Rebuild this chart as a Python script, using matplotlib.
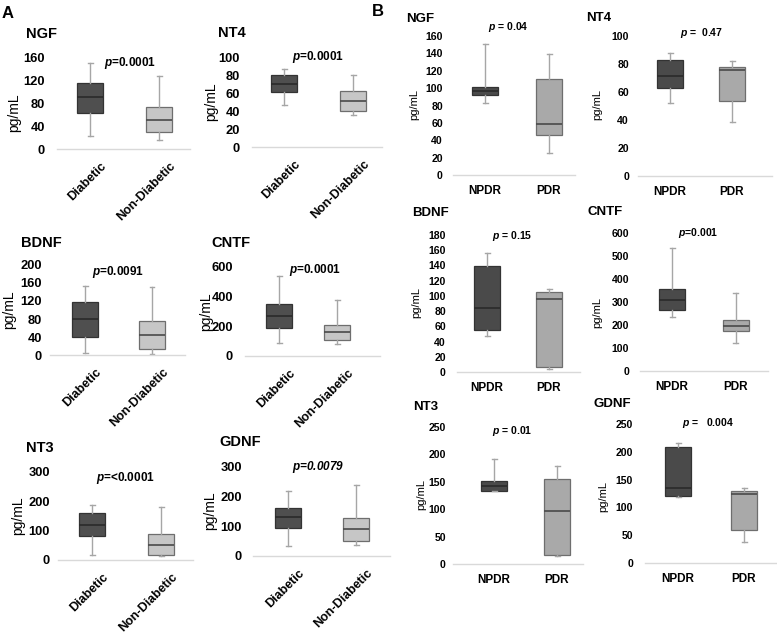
import matplotlib
matplotlib.use("Agg")
import matplotlib.pyplot as plt
from matplotlib.transforms import ScaledTranslation

plt.rcParams['font.family'] = ['Liberation Sans', 'DejaVu Sans']
plt.rcParams['mathtext.fontset'] = 'custom'
plt.rcParams['mathtext.it'] = 'Liberation Sans:italic:bold'
plt.rcParams['mathtext.rm'] = 'Liberation Sans:bold'
plt.rcParams['mathtext.bf'] = 'Liberation Sans:bold'

# ---------------- data ----------------
groups_A = ["Diabetic", "Non-Diabetic"]
groups_B = ["NPDR", "PDR"]
stat_keys = ["whislo", "q1", "med", "q3", "whishi"]

# Panel A: [low whisker, Q1, median, Q3, high whisker]
A_NGF_diab = [22, 64, 91, 116, 152]
A_NGF_non = [15, 30, 51, 73, 129]
A_NT4_diab = [47, 61.5, 71, 81, 87.5]
A_NT4_non = [35.5, 40, 52, 63, 81]
A_BDNF_diab = [5, 40, 81, 118.5, 153]
A_BDNF_non = [3, 14, 45, 75, 150]
A_CNTF_diab = [90, 187, 267, 350, 537]
A_CNTF_non = [81, 110, 164, 211, 375]
A_NT3_diab = [16, 82, 121, 161, 189]
A_NT3_non = [14, 18, 52, 88, 179]
A_GDNF_diab = [34, 95.5, 130, 162, 218]
A_GDNF_non = [36, 50.5, 90, 128, 238]

# Panel B
B_NGF_npdr = [82.5, 92.5, 97, 101, 151]
B_NGF_pdr = [25, 46, 59, 110.5, 139]
B_NT4_npdr = [52, 63, 71.6, 83, 87.6]
B_NT4_pdr = [38.7, 53.5, 76, 78, 82]
B_BDNF_npdr = [46.7, 54.6, 84, 139, 156]
B_BDNF_pdr = [4.4, 6.5, 95.7, 105, 109]
B_CNTF_npdr = [234, 267, 308, 357, 536]
B_CNTF_pdr = [123, 175, 195, 223, 341]
B_NT3_npdr = [134, 134, 143, 151, 192]
B_NT3_pdr = [15, 16, 97, 156, 179]
B_GDNF_npdr = [118, 121, 134, 208, 215]
B_GDNF_pdr = [37, 58.6, 124, 128.6, 134]

titles_A = ["NGF", "NT4", "BDNF", "CNTF", "NT3", "GDNF"]
titles_B = ["NGF", "NT4", "BDNF", "CNTF", "NT3", "GDNF"]
pvals_A = ["=0.0001", "=0.0001", "=0.0091", "=0.0001", "=<0.0001", "=0.0079"]
pvals_B = [" = 0.04", " =  0.47", " = 0.15", "=0.001", " = 0.01", " =   0.004"]
ymax_A = [160, 100, 200, 600, 300, 300]
ystep_A = [40, 20, 40, 200, 100, 100]
ymax_B = [160, 100, 180, 600, 250, 250]
ystep_B = [20, 20, 20, 100, 50, 50]
data_A = [(A_NGF_diab, A_NGF_non), (A_NT4_diab, A_NT4_non), (A_BDNF_diab, A_BDNF_non),
          (A_CNTF_diab, A_CNTF_non), (A_NT3_diab, A_NT3_non), (A_GDNF_diab, A_GDNF_non)]
data_B = [(B_NGF_npdr, B_NGF_pdr), (B_NT4_npdr, B_NT4_pdr), (B_BDNF_npdr, B_BDNF_pdr),
          (B_CNTF_npdr, B_CNTF_pdr), (B_NT3_npdr, B_NT3_pdr), (B_GDNF_npdr, B_GDNF_pdr)]

# ---------------- layout (pixels) ----------------
W, H = 777, 634
fig = plt.figure(figsize=(W / 100, H / 100), dpi=100)
fig.patch.set_facecolor("white")

def fx(x):
    return x / W

def fy(y):
    return 1 - y / H

# L, R, top, bottom, c1, c2, tickpad(px), ylabel (x,y), title (x,y), pval (x,y)
layout_A = [
    (57, 190, 58, 149, 90, 159, 12, (14, 113), (26, 34), (130, 63)),
    (252, 382, 58, 147, 284, 353, 12, (211, 102), (218, 33), (318, 57)),
    (50, 185, 265, 355, 85, 152, 8, (9, 310), (21, 243), (118, 272)),
    (245, 380, 267, 356, 279, 337, 12, (206, 312), (211, 243), (315, 270)),
    (58, 193, 472, 560, 92, 161, 8, (18, 516), (26, 448), (125, 478)),
    (253, 390, 467, 556, 288, 356, 11, (210, 511), (219, 442), (318, 467)),
]
layout_B = [
    (453, 575, 36, 175, 485, 549, 10, (414, 104), (406, 19), (508, 27)),
    (638, 772, 36, 176, 670, 732, 9, (597, 104), (586, 18), (702, 33)),
    (457, 580, 235, 372, 487, 549, 11, (416, 303), (412, 213), (512, 236)),
    (640, 768, 233, 371, 672, 736, 11, (597, 312), (587, 212), (698, 233)),
    (453, 583, 427, 564, 494, 557, 7, (421, 495), (413, 407), (512, 431)),
    (645, 776, 424, 563, 678, 744, 12, (603, 497), (594, 404), (708, 423)),
]

dark_A, light_A = "#4f4f4f", "#c6c6c6"
dark_B, light_B = "#4a4a4a", "#a9a9a9"


def draw_panel(lay, vals, groups, ymax, ystep, title, ptxt, dark, light, is_A):
    L, R, top, bot, c1, c2, tpad, ylab, tpos, ppos = lay
    u = c2 - c1
    ax = fig.add_axes([fx(L), fy(bot), (R - L) / W, (bot - top) / H])
    ax.set_xlim(1 - (c1 - L) / u, 2 + (R - c2) / u)
    ax.set_ylim(0, ymax)
    stats = [dict(zip(stat_keys, v), fliers=[]) for v in vals]
    res = ax.bxp(stats, positions=[1, 2], widths=26 / u, capwidths=5 / u,
                 patch_artist=True, showfliers=False,
                 whiskerprops=dict(color="#a6a6a6", lw=1.0),
                 capprops=dict(color="#a6a6a6", lw=1.0),
                 medianprops=dict(color="#2a2a2a", lw=1.2),
                 boxprops=dict(lw=0.9))
    res["boxes"][0].set_facecolor(dark)
    res["boxes"][0].set_edgecolor("#333333")
    res["boxes"][1].set_facecolor(light)
    res["boxes"][1].set_edgecolor("#6e6e6e")
    res["medians"][1].set_color("#4a4a4a")
    for s in ["top", "right", "left"]:
        ax.spines[s].set_visible(False)
    ax.spines["bottom"].set_color("#d9d9d9")
    ax.spines["bottom"].set_linewidth(1.0)
    ax.set_yticks(list(range(0, ymax + 1, ystep)))
    ax.tick_params(axis="y", length=0, pad=tpad * 0.72,
                   labelsize=9.3 if is_A else 7.6)
    for lb in ax.get_yticklabels():
        lb.set_fontweight("bold")
    ax.set_xticks([1, 2])
    if is_A:
        ax.set_xticklabels(groups, rotation=45, ha="right", va="top",
                           rotation_mode="anchor", fontsize=9, fontweight="bold")
        ax.tick_params(axis="x", length=0, pad=8)
        off = ScaledTranslation(10 / 100, 0, fig.dpi_scale_trans)
        for lb in ax.get_xticklabels():
            lb.set_transform(lb.get_transform() + off)
    else:
        ax.set_xticklabels(groups, fontsize=8.5, fontweight="bold")
        ax.tick_params(axis="x", length=0, pad=7)
    ax.patch.set_alpha(0)
    # ylabel
    fig.text(fx(ylab[0]), fy(ylab[1]), "pg/mL", rotation=90, ha="center", va="center",
             fontsize=10 if is_A else 8)
    # title
    fig.text(fx(tpos[0]), fy(tpos[1]), title, ha="left", va="center",
             fontsize=10.5 if is_A else 9.5, fontweight="bold")
    # p value
    italic_all = is_A and title == "GDNF"
    fig.text(fx(ppos[0]), fy(ppos[1]), r"$\it{p}$" + ptxt, ha="center", va="center",
             fontsize=8.5 if is_A else 7.5, fontweight="bold",
             fontstyle="italic" if italic_all else "normal")


for i in range(6):
    draw_panel(layout_A[i], data_A[i], groups_A, ymax_A[i], ystep_A[i], titles_A[i],
               pvals_A[i], dark_A, light_A, True)
    draw_panel(layout_B[i], data_B[i], groups_B, ymax_B[i], ystep_B[i], titles_B[i],
               pvals_B[i], dark_B, light_B, False)

fig.text(fx(2), fy(14), "A", ha="left", va="center", fontsize=12, fontweight="bold")
fig.text(fx(372), fy(12), "B", ha="left", va="center", fontsize=12, fontweight="bold")

fig.savefig("out.png", dpi=100)
